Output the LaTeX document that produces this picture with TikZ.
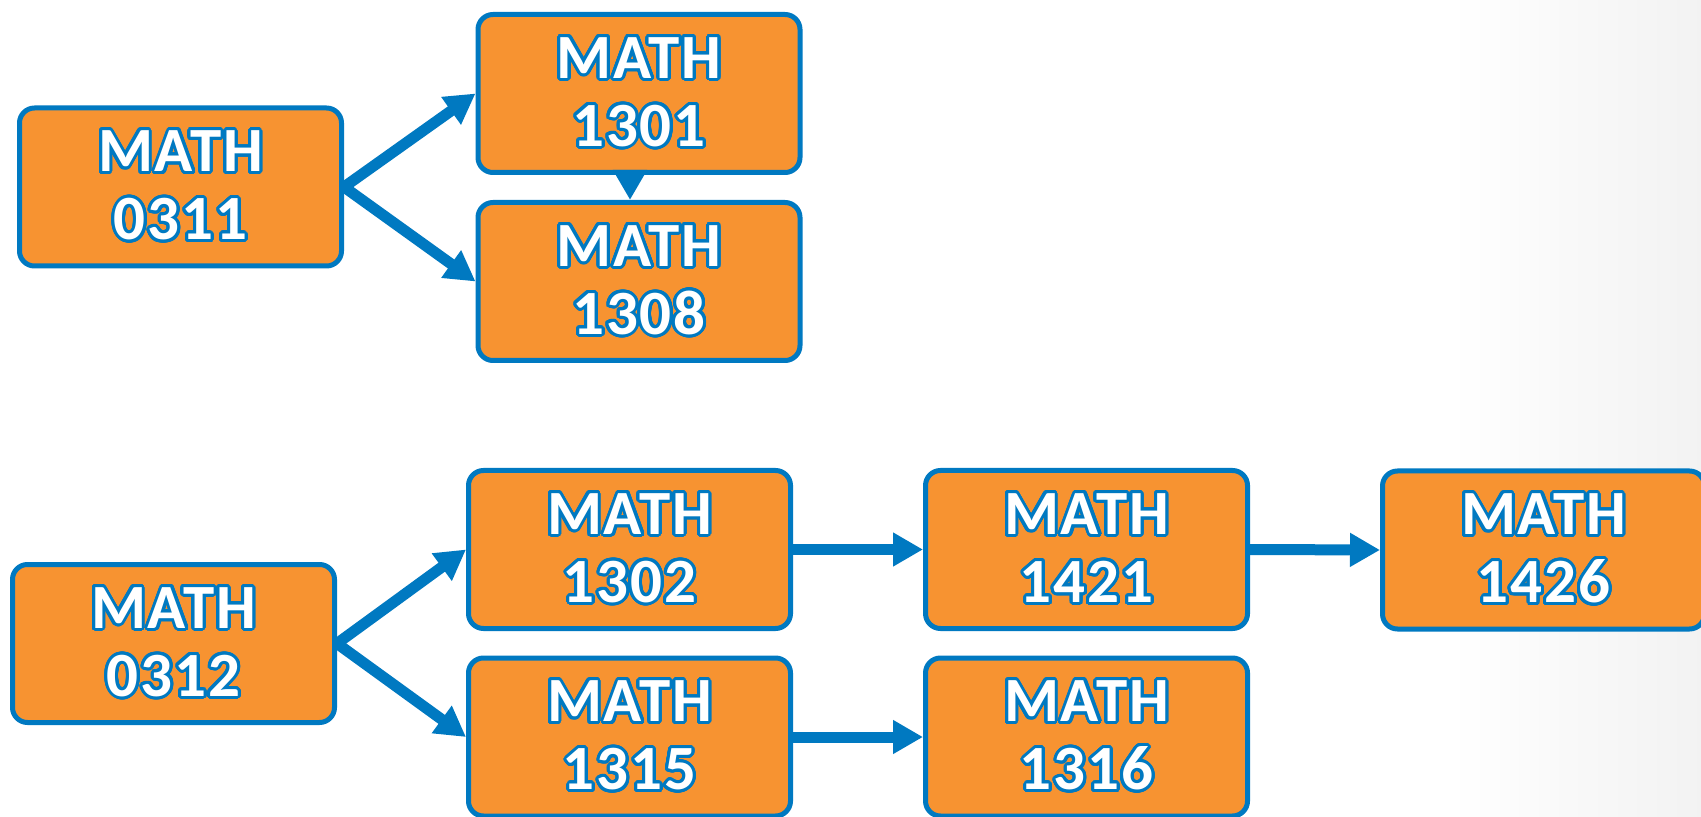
\documentclass[tikz,border=0pt]{standalone}
\usepackage{fontspec}
\setmainfont{Carlito}
\usepackage[copies]{contour}
\usetikzlibrary{arrows.meta}
\definecolor{boxorange}{RGB}{247,147,49}
\definecolor{boxblue}{RGB}{0,121,193}
\contourlength{1.5pt}
\contournumber{32}
\newcommand{\mlabel}[1]{\contour{boxblue}{MATH}\\\contour{boxblue}{#1}}
\tikzset{
  course/.style={draw=boxblue, line width=2.5pt, fill=boxorange, rounded corners=7.5pt,
    minimum width=161pt, minimum height=79pt, inner sep=0pt, align=center,
    text=white, font=\bfseries\fontsize{31.5}{34}\selectfont\addfontfeatures{LetterSpace=3}},
  arr/.style={draw=boxblue, line width=5.5pt, -{Triangle[length=15pt,width=16pt]}}
}
\begin{document}
\begin{tikzpicture}[x=0.5pt,y=-0.5pt]
\useasboundingbox (0,0) rectangle (1701,817);
\clip (0,0) rectangle (1701,817);
\fill[white] (0,0) rectangle (1701,817);
\shade[left color=white, right color=black!5] (1450,0) rectangle (1701,817);
% nodes
\node[course] (A) at (180.5,187) {\mlabel{0311}};
\node[course] (B) at (639,93.5) {\mlabel{1301}};
\node[course] (C) at (639,281.5) {\mlabel{1308}};
\node[course] (D) at (173.5,643.5) {\mlabel{0312}};
\node[course] (E) at (629.5,549.5) {\mlabel{1302}};
\node[course] (F) at (629.5,737) {\mlabel{1315}};
\node[course] (G) at (1086.5,549.5) {\mlabel{1421}};
\node[course] (H) at (1086.5,737) {\mlabel{1316}};
\node[course] (I) at (1543.5,550) {\mlabel{1426}};
% connectors
\draw[arr] (A.east) -- (B.west);
\draw[arr] (A.east) -- (C.west);
\draw[arr] ([xshift=-4.5pt]B.south) -- ([xshift=-4.5pt]C.north);
\draw[arr] (D.east) -- (E.west);
\draw[arr] (D.east) -- (F.west);
\draw[arr] (E.east) -- (G.west);
\draw[arr] (G.east) -- (I.west);
\draw[arr] (F.east) -- (H.west);
\end{tikzpicture}
\end{document}
